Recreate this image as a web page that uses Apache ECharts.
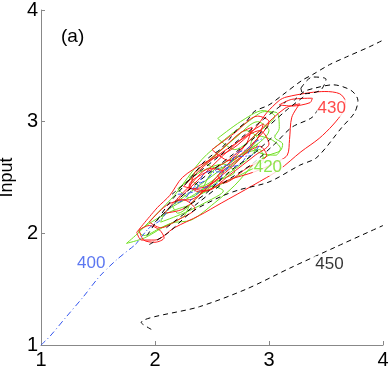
<!DOCTYPE html>
<html>
<head>
<meta charset="utf-8">
<script src="https://cdn.jsdelivr.net/npm/echarts@6/dist/echarts.min.js"></script>
<style>
  html, body { margin: 0; padding: 0; background: #fff; }
  #chart { width: 392px; height: 371px; }
</style>
</head>
<body>
<div id="chart"></div>
<script>
// axis ticks
var ticksX = [1, 2, 3, 4];
var ticksY = [1, 2, 3, 4];

// 400 contour (blue dash-dot) running into the cloud
var blueLine = [[1.00, 1.00], [1.075, 1.074], [1.22, 1.25], [1.37, 1.43], [1.51, 1.61], [1.66, 1.76], [1.83, 1.90]];
var blueIn1 = [[1.83, 1.90], [1.95, 2.05], [2.05, 2.12], [2.15, 2.25], [2.25, 2.30], [2.35, 2.42], [2.45, 2.48], [2.55, 2.58], [2.65, 2.62], [2.72, 2.72], [2.80, 2.75], [2.88, 2.82], [2.95, 2.85]];
var blueIn2 = [[2.20, 2.35], [2.35, 2.38], [2.45, 2.55], [2.60, 2.55], [2.70, 2.68], [2.85, 2.70], [2.92, 2.80]];
var blueIn3 = [[2.30, 2.28], [2.42, 2.40], [2.55, 2.45], [2.62, 2.58], [2.75, 2.62], [2.85, 2.78]];

// 450 contour (black dashed)
var blackLow = [[1.967, 1.14], [1.879, 1.20], [2.39, 1.343], [2.80, 1.50], [3.18, 1.687], [3.59, 1.88], [4.00, 2.07]];
var blackUpper = [[1.93, 1.98], [2.11, 2.25], [2.30, 2.48], [2.43, 2.64], [2.50, 2.70], [2.57, 2.75], [2.65, 2.84], [2.72, 2.93], [2.80, 3.00], [2.87, 3.09], [3.00, 3.15], [3.12, 3.24], [3.29, 3.37], [3.38, 3.42], [3.53, 3.51], [3.68, 3.58], [3.88, 3.67], [4.00, 3.73]];
var blackOuter = [[1.95, 1.90], [2.11, 2.00], [2.32, 2.19], [2.58, 2.33], [2.74, 2.39], [3.00, 2.46], [3.27, 2.61], [3.42, 2.68], [3.64, 2.95], [3.75, 3.08], [3.78, 3.19], [3.72, 3.28], [3.56, 3.33], [3.40, 3.30], [3.31, 3.27], [3.22, 3.19]];
var blackIn1 = [[2.00, 2.10], [2.20, 2.30], [2.45, 2.52], [2.70, 2.72], [2.95, 2.92], [3.15, 3.10], [3.30, 3.22]];
var blackIn2 = [[2.10, 2.05], [2.35, 2.25], [2.60, 2.45], [2.85, 2.62], [3.05, 2.80], [3.20, 2.95], [3.38, 3.04], [3.45, 3.15]];
var blackIn3 = [[2.15, 2.35], [2.35, 2.52], [2.55, 2.68], [2.75, 2.85], [2.95, 3.02], [3.15, 3.18]];
var blackIn4 = [[2.25, 2.22], [2.45, 2.36], [2.65, 2.55], [2.85, 2.70], [3.05, 2.88]];
var blackTop = [[3.28, 3.30], [3.38, 3.40], [3.50, 3.38], [3.45, 3.28], [3.30, 3.25], [3.28, 3.30]];

// 430 contour (red)
var redOuter = [[1.84, 2.01], [1.88, 1.94], [2.00, 1.94], [2.17, 2.05], [2.39, 2.16], [2.58, 2.27], [2.86, 2.43], [3.09, 2.57], [3.28, 2.73], [3.44, 2.85], [3.56, 2.97], [3.65, 3.09], [3.67, 3.18], [3.62, 3.25], [3.49, 3.27], [3.36, 3.26], [3.15, 3.22], [3.09, 3.19], [2.98, 3.08], [2.87, 2.93], [2.67, 2.75], [2.43, 2.63], [2.24, 2.50], [2.13, 2.34], [2.02, 2.23], [1.84, 2.01]];
var redLobe = [[3.27, 3.16], [3.20, 3.04], [3.18, 2.84], [3.16, 2.70], [3.05, 2.63], [2.87, 2.55], [2.65, 2.48], [2.39, 2.37], [2.30, 2.43], [2.65, 2.66], [2.92, 2.92], [3.14, 3.12], [3.27, 3.16]];
var redTop = [[3.09, 3.15], [3.20, 3.20], [3.38, 3.21], [3.36, 3.17], [3.20, 3.14], [3.09, 3.15]];
var redTip = [[1.86, 2.03], [1.95, 2.07], [2.04, 2.03], [2.08, 1.96], [2.00, 1.92], [1.90, 1.94], [1.86, 2.03]];
var red1 = [[2.20, 2.30], [2.40, 2.50], [2.60, 2.70], [2.80, 2.88], [2.95, 2.98], [2.90, 2.85], [2.70, 2.62], [2.50, 2.45], [2.30, 2.30], [2.20, 2.30]];
var red2 = [[2.35, 2.55], [2.55, 2.72], [2.75, 2.90], [2.85, 2.95], [2.80, 2.80], [2.62, 2.60], [2.45, 2.42], [2.30, 2.40], [2.35, 2.55]];
var red3 = [[2.25, 2.42], [2.45, 2.38], [2.65, 2.52], [2.88, 2.70], [3.00, 2.80], [2.92, 2.92], [2.70, 2.80], [2.45, 2.62], [2.25, 2.42]];
var red4 = [[1.95, 2.10], [2.10, 2.25], [2.25, 2.30], [2.35, 2.22], [2.20, 2.12], [2.05, 2.05], [1.95, 2.10]];
var red5 = [[2.50, 2.75], [2.70, 2.90], [2.90, 3.05], [3.00, 3.00], [2.85, 2.80], [2.65, 2.65], [2.50, 2.75]];
var red6 = [[2.08, 2.18], [2.28, 2.40], [2.48, 2.58], [2.60, 2.55], [2.45, 2.40], [2.25, 2.22], [2.08, 2.18]];
var red7 = [[2.55, 2.52], [2.75, 2.68], [2.92, 2.78], [2.98, 2.70], [2.80, 2.58], [2.60, 2.45], [2.55, 2.52]];

// 420 contour (green)
var greenOuter = [[1.75, 1.91], [1.91, 1.96], [2.14, 2.09], [2.32, 2.12], [2.52, 2.27], [2.70, 2.43], [2.87, 2.62], [3.00, 2.70], [3.10, 2.74], [3.12, 2.80], [3.05, 2.86], [3.09, 2.94], [3.07, 3.08], [2.96, 3.09], [2.83, 3.01], [2.61, 2.84], [2.41, 2.66], [2.17, 2.34], [2.02, 2.18], [1.86, 2.01], [1.75, 1.91]];
var green1 = [[2.15, 2.25], [2.35, 2.40], [2.55, 2.55], [2.75, 2.70], [2.90, 2.80], [2.85, 2.70], [2.60, 2.50], [2.40, 2.35], [2.20, 2.18], [2.15, 2.25]];
var green2 = [[2.30, 2.50], [2.50, 2.68], [2.70, 2.85], [2.90, 3.00], [3.00, 2.92], [2.80, 2.72], [2.60, 2.55], [2.40, 2.42], [2.30, 2.50]];
var green3 = [[2.40, 2.35], [2.60, 2.45], [2.80, 2.55], [2.95, 2.65], [2.92, 2.75], [2.70, 2.68], [2.50, 2.55], [2.40, 2.35]];
var green4 = [[2.88, 2.88], [3.02, 2.84], [3.10, 2.76], [3.06, 2.70], [2.92, 2.72], [2.84, 2.80], [2.88, 2.88]];
var green5 = [[1.85, 2.02], [2.00, 2.12], [2.15, 2.20], [2.30, 2.25], [2.25, 2.15], [2.05, 2.05], [1.90, 1.98], [1.85, 2.02]];
var green6 = [[2.55, 2.85], [2.75, 3.00], [2.95, 3.10], [3.05, 3.05], [2.90, 2.90], [2.70, 2.75], [2.55, 2.85]];
var green7 = [[2.20, 2.40], [2.40, 2.55], [2.60, 2.62], [2.70, 2.55], [2.50, 2.45], [2.30, 2.32], [2.20, 2.40]];
var green8 = [[2.45, 2.62], [2.62, 2.78], [2.80, 2.92], [2.90, 2.85], [2.75, 2.70], [2.55, 2.58], [2.45, 2.62]];
var green9 = [[2.05, 2.10], [2.25, 2.18], [2.45, 2.28], [2.60, 2.38], [2.50, 2.42], [2.30, 2.32], [2.10, 2.20], [2.05, 2.10]];

// contour labels
var labelText = ['400', '420', '430', '450'];
var labelX = [1.44, 2.99, 3.55, 3.53];
var labelY = [1.73, 2.59, 3.12, 1.72];

var RED = '#ff1a1a', GREEN = '#70e020', BLUE = '#3355ee', BLACK = '#000';
var labelColor = [BLUE, GREEN, RED, BLACK];

function line(data, color, type) {
    return {
        type: 'line',
        data: data,
        showSymbol: false,
        smooth: 0.3,
        silent: true,
        lineStyle: { color: color, width: 1, type: type || 'solid' },
        z: 2
    };
}

var series = [];
// green first, then red, blue and black on top
[greenOuter, green1, green2, green3, green4, green5, green6, green7, green8, green9].forEach(function (d) {
    series.push(line(d, GREEN));
});
[redOuter, redLobe, redTop, redTip, red1, red2, red3, red4, red5, red6, red7].forEach(function (d) {
    series.push(line(d, RED));
});
[blueIn1, blueIn2, blueIn3].forEach(function (d) {
    series.push(line(d, BLUE, [5, 2, 1, 2]));
});
series.push(line(blueLine, BLUE, [6, 3, 1, 3]));
[blackLow, blackUpper, blackOuter, blackIn1, blackIn2, blackIn3, blackIn4, blackTop].forEach(function (d) {
    series.push(line(d, BLACK, [5, 4]));
});

series.push({
    type: 'scatter',
    symbolSize: 0,
    silent: true,
    z: 5,
    data: labelText.map(function (t, i) {
        return {
            name: t,
            value: [labelX[i], labelY[i]],
            label: { color: labelColor[i] }
        };
    }),
    label: {
        show: true,
        position: 'inside',
        formatter: '{b}',
        fontSize: 17,
        fontFamily: 'Liberation Sans',
        backgroundColor: '#fff',
        padding: [0, 1]
    }
});

var myChart = echarts.init(document.getElementById('chart'));

var option = {
    animation: false,
    grid: { left: 41, right: 9, top: 10, bottom: 26, outerBoundsMode: 'none', containLabel: false },
    graphic: [{
        type: 'text',
        left: 61,
        top: 27,
        style: { text: '(a)', fontSize: 19, fontFamily: 'Liberation Sans', fill: '#000' }
    }],
    xAxis: {
        type: 'value',
        min: ticksX[0],
        max: ticksX[ticksX.length - 1],
        interval: 1,
        splitLine: { show: false },
        axisLine: { lineStyle: { color: '#888' } },
        axisTick: { inside: true, length: 4, lineStyle: { color: '#888' } },
        axisLabel: { color: '#000', fontSize: 20, margin: 5, fontFamily: 'Liberation Sans' }
    },
    yAxis: {
        type: 'value',
        min: ticksY[0],
        max: ticksY[ticksY.length - 1],
        interval: 1,
        name: 'Input',
        nameLocation: 'middle',
        nameGap: 24,
        nameRotate: 90,
        nameTextStyle: { color: '#000', fontSize: 18, fontFamily: 'Liberation Sans' },
        splitLine: { show: false },
        axisLine: { lineStyle: { color: '#888' } },
        axisTick: { inside: true, length: 4, lineStyle: { color: '#888' } },
        axisLabel: { color: '#000', fontSize: 20, margin: 3, fontFamily: 'Liberation Sans' }
    },
    series: series
};

myChart.setOption(option);
</script>
</body>
</html>
